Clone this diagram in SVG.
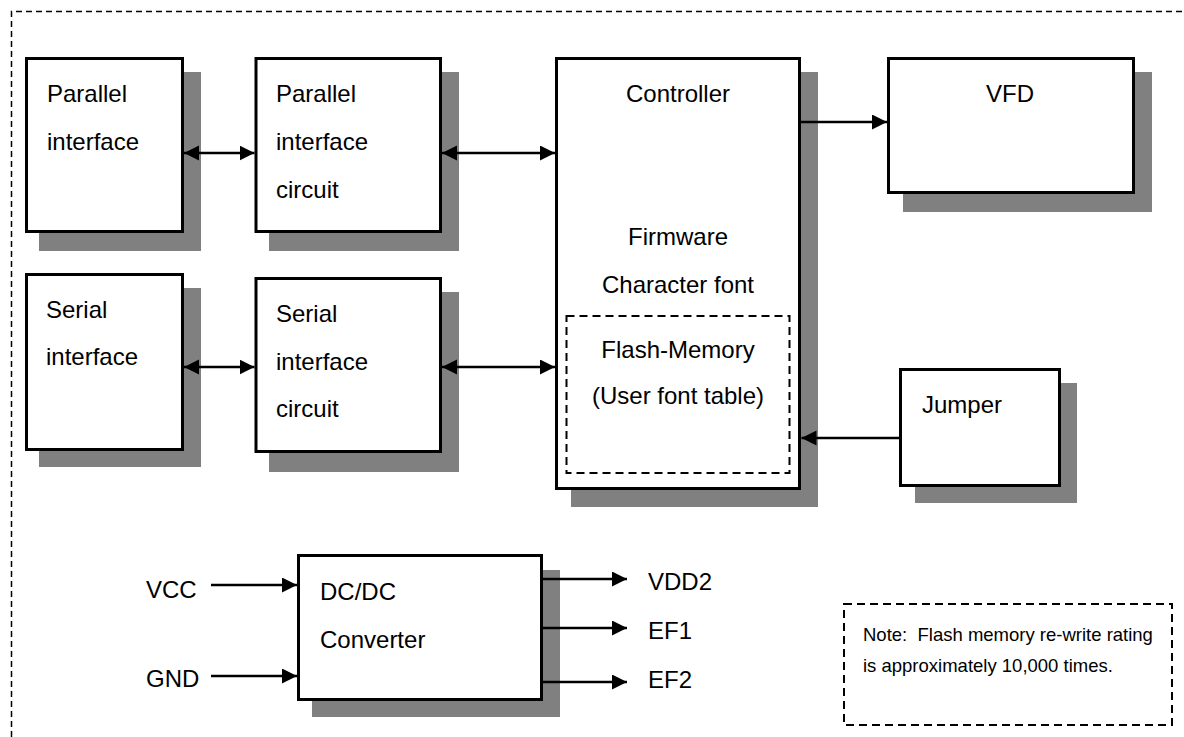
<svg xmlns="http://www.w3.org/2000/svg" width="1184" height="737" viewBox="0 0 1184 737">
<style>
.bg{fill:#ffffff}
.shadow{fill:#808080;stroke:none}
.box{fill:#ffffff;stroke:#000000;stroke-width:3}
.dash{fill:none;stroke:#000000;stroke-width:2;stroke-dasharray:8,5}
.frame{fill:none;stroke:#000000;stroke-width:1.5;stroke-dasharray:6,4}
.lbl{font-family:"Liberation Sans",Arial,sans-serif;font-size:24px;fill:#000000}
.mid{text-anchor:middle}
.note{font-family:"Liberation Sans",Arial,sans-serif;font-size:18.5px;fill:#000000}
.conn{fill:none;stroke:#000000;stroke-width:2.5}
</style>
<defs>
<marker id="ah" markerUnits="userSpaceOnUse" markerWidth="16" markerHeight="16" refX="15" refY="7.5" orient="auto-start-reverse" viewBox="0 0 16 16">
<path d="M0,0 L15,7.5 L0,15 z" fill="#000000"/>
</marker>
</defs>
<rect class="bg" x="0" y="0" width="1184" height="737"/>
<path class="frame" d="M11.5,737 V11.5 H1184"/>

<g id="parallel-interface">
<rect class="shadow" x="39" y="72" width="162" height="179"/>
<rect class="box" x="26.5" y="58.5" width="156" height="173"/>
<text class="lbl" x="47" y="102">Parallel</text>
<text class="lbl" x="47" y="150">interface</text>
</g>

<g id="parallel-interface-circuit">
<rect class="shadow" x="269" y="72" width="190" height="179"/>
<rect class="box" x="256" y="58.5" width="184.5" height="173"/>
<text class="lbl" x="276" y="102">Parallel</text>
<text class="lbl" x="276" y="150">interface</text>
<text class="lbl" x="276" y="198">circuit</text>
</g>

<g id="controller">
<rect class="shadow" x="571" y="72" width="247" height="435"/>
<rect class="box" x="556.5" y="58.5" width="243" height="430"/>
<text class="lbl mid" x="678" y="102">Controller</text>
<text class="lbl mid" x="678" y="245">Firmware</text>
<text class="lbl mid" x="678" y="293">Character font</text>
<g id="flash-memory">
<rect class="dash" x="566.5" y="316" width="223" height="157"/>
<text class="lbl mid" x="678" y="358">Flash-Memory</text>
<text class="lbl mid" x="678" y="404">(User font table)</text>
</g>
</g>

<g id="vfd">
<rect class="shadow" x="903" y="72" width="249" height="140"/>
<rect class="box" x="888.5" y="58.5" width="245" height="134"/>
<text class="lbl mid" x="1010" y="102">VFD</text>
</g>

<g id="serial-interface">
<rect class="shadow" x="39" y="288" width="162" height="179"/>
<rect class="box" x="26.5" y="274.5" width="156" height="175"/>
<text class="lbl" x="46" y="318">Serial</text>
<text class="lbl" x="46" y="365">interface</text>
</g>

<g id="serial-interface-circuit">
<rect class="shadow" x="269" y="292" width="190" height="180"/>
<rect class="box" x="256" y="278.5" width="184.5" height="173"/>
<text class="lbl" x="276" y="322">Serial</text>
<text class="lbl" x="276" y="370">interface</text>
<text class="lbl" x="276" y="417">circuit</text>
</g>

<g id="jumper">
<rect class="shadow" x="915" y="383" width="162" height="120"/>
<rect class="box" x="900.5" y="369.5" width="159" height="116"/>
<text class="lbl" x="922" y="413">Jumper</text>
</g>

<g id="dcdc-converter">
<rect class="shadow" x="312" y="570" width="248" height="147"/>
<rect class="box" x="298.5" y="555.5" width="243" height="144"/>
<text class="lbl" x="320" y="600">DC/DC</text>
<text class="lbl" x="320" y="648">Converter</text>
</g>

<g id="vcc"><text class="lbl" x="146" y="598">VCC</text></g>
<g id="gnd"><text class="lbl" x="146" y="687">GND</text></g>
<g id="vdd2"><text class="lbl" x="648" y="590">VDD2</text></g>
<g id="ef1"><text class="lbl" x="648" y="639">EF1</text></g>
<g id="ef2"><text class="lbl" x="648" y="688">EF2</text></g>

<g id="note">
<rect class="dash" x="844" y="604" width="328" height="121"/>
<text class="note" x="863" y="641" xml:space="preserve">Note:  Flash memory re-write rating</text>
<text class="note" x="863" y="672">is approximately 10,000 times.</text>
</g>

<g id="connectors">
<line class="conn" x1="184" y1="153" x2="254.5" y2="153" marker-start="url(#ah)" marker-end="url(#ah)"/>
<line class="conn" x1="442" y1="153" x2="555" y2="153" marker-start="url(#ah)" marker-end="url(#ah)"/>
<line class="conn" x1="184" y1="367" x2="254.5" y2="367" marker-start="url(#ah)" marker-end="url(#ah)"/>
<line class="conn" x1="442" y1="367" x2="555" y2="367" marker-start="url(#ah)" marker-end="url(#ah)"/>
<line class="conn" x1="801" y1="122" x2="887" y2="122" marker-end="url(#ah)"/>
<line class="conn" x1="899" y1="438" x2="801.5" y2="438" marker-end="url(#ah)"/>
<line class="conn" x1="211" y1="585" x2="297" y2="585" marker-end="url(#ah)"/>
<line class="conn" x1="211" y1="676" x2="297" y2="676" marker-end="url(#ah)"/>
<line class="conn" x1="543" y1="579" x2="627" y2="579" marker-end="url(#ah)"/>
<line class="conn" x1="543" y1="628" x2="627" y2="628" marker-end="url(#ah)"/>
<line class="conn" x1="543" y1="682" x2="627" y2="682" marker-end="url(#ah)"/>
</g>
</svg>
